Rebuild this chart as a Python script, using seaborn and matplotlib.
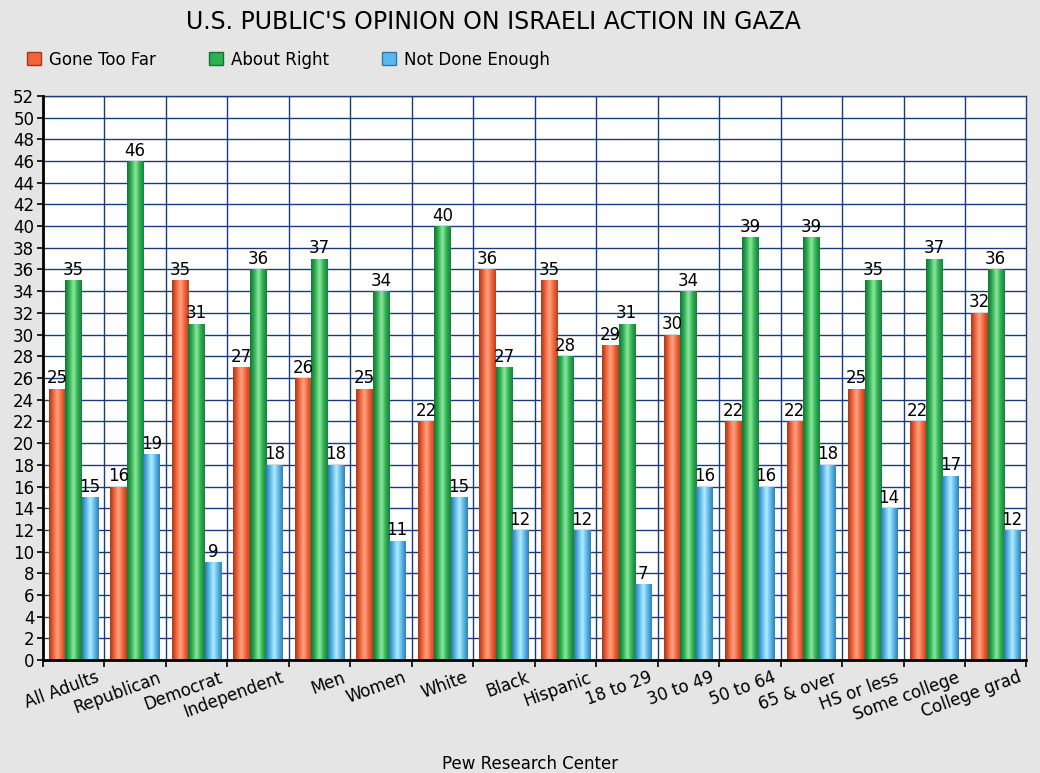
import numpy as np
import pandas as pd
import seaborn as sns
import matplotlib.pyplot as plt
import matplotlib.transforms as mtrans
from matplotlib.colors import LinearSegmentedColormap
from matplotlib.patches import Patch

groups = ['All Adults', 'Republican', 'Democrat', 'Independent', 'Men', 'Women',
          'White', 'Black', 'Hispanic', '18 to 29', '30 to 49', '50 to 64',
          '65 & over', 'HS or less', 'Some college', 'College grad']
gone_too_far = [25, 16, 35, 27, 26, 25, 22, 36, 35, 29, 30, 22, 22, 25, 22, 32]
about_right = [35, 46, 31, 36, 37, 34, 40, 27, 28, 31, 34, 39, 39, 35, 37, 36]
not_enough = [15, 19, 9, 18, 18, 11, 15, 12, 12, 7, 16, 16, 18, 14, 17, 12]
series = ['Gone Too Far', 'About Right', 'Not Done Enough']

df = pd.DataFrame({'group': groups, series[0]: gone_too_far,
                   series[1]: about_right, series[2]: not_enough})
df = df.melt(id_vars='group', var_name='opinion', value_name='pct')

base = {'Gone Too Far': '#f0643a', 'About Right': '#2fb050', 'Not Done Enough': '#5ab8ea'}
shades = {
    'Gone Too Far': ['#a8361a', '#f0643a', '#ffa585', '#f0643a', '#b8401f'],
    'About Right': ['#137236', '#2fb050', '#8fe8a2', '#2fb050', '#178040'],
    'Not Done Enough': ['#2f78aa', '#5ab8ea', '#b5ecff', '#5ab8ea', '#347fb0'],
}

bg = '#e5e5e5'
fig, ax = plt.subplots(figsize=(10.4, 7.73), dpi=100)
fig.patch.set_facecolor(bg)
fig.subplots_adjust(left=0.041, right=0.987, top=0.876, bottom=0.146)

sns.barplot(data=df, x='group', y='pct', hue='opinion', palette=base,
            ax=ax, width=0.8, saturation=1, legend=False, zorder=3)

# cylinder-like gradient on each bar
grad = np.linspace(0, 1, 64).reshape(1, -1)
for cont, name in zip(ax.containers, series):
    cmap = LinearSegmentedColormap.from_list(name, shades[name])
    for bar in cont:
        x0, y0 = bar.get_x(), bar.get_y()
        w, h = bar.get_width(), bar.get_height()
        im = ax.imshow(grad, cmap=cmap, aspect='auto', extent=(x0, x0 + w, y0, y0 + h),
                       zorder=4, interpolation='bicubic')
        im.set_clip_path(bar)
    ax.bar_label(cont, fontsize=12, padding=1, zorder=5)

ax.set_xlim(-0.5, len(groups) - 0.5)
ax.set_ylim(0, 52)
ax.set_yticks(range(0, 53, 2))
ax.set_facecolor('white')
ax.grid(False)
for y in range(2, 53, 2):
    ax.axhline(y, color='#1a3c78', lw=1, zorder=1)
for x in np.arange(0.5, len(groups) - 0.5, 1):
    ax.axvline(x, color='#1a3c78', lw=1, zorder=1)

ax.set_xticks(np.arange(-0.5, len(groups), 1), minor=True)
ax.tick_params(axis='x', which='minor', length=5, width=1.2, color='black')
ax.tick_params(axis='x', which='major', length=0, pad=6)
ax.tick_params(axis='y', length=4, width=1.2, labelsize=12, pad=2)
ax.set_xticks(range(len(groups)))
ax.set_xticklabels(groups, rotation=20, ha='right', rotation_mode='anchor', fontsize=12)
offset = mtrans.ScaledTranslation(0.22, 0, fig.dpi_scale_trans)
for lab in ax.get_xticklabels():
    lab.set_transform(lab.get_transform() + offset)

for s in ['top', 'right']:
    ax.spines[s].set_color('#1a3c78')
    ax.spines[s].set_linewidth(1)
for s in ['left', 'bottom']:
    ax.spines[s].set_color('black')
    ax.spines[s].set_linewidth(2)
    ax.spines[s].set_zorder(6)

ax.set_xlabel('')
ax.set_ylabel('')

fig.text(0.51, 0.012, 'Pew Research Center', ha='center', va='center', fontsize=12)
fig.text(0.474, 0.972, "U.S. PUBLIC'S OPINION ON ISRAELI ACTION IN GAZA",
         ha='center', va='center', fontsize=17)

handles = [Patch(facecolor=base[s], edgecolor=shades[s][0], label=s) for s in series]
fig.legend(handles=handles, loc='center left', bbox_to_anchor=(0.012, 0.923),
           ncol=3, frameon=False, fontsize=12, handlelength=0.8, handleheight=0.8,
           handletextpad=0.5, columnspacing=3.2)

fig.savefig('out.png', dpi=100, facecolor=bg)
